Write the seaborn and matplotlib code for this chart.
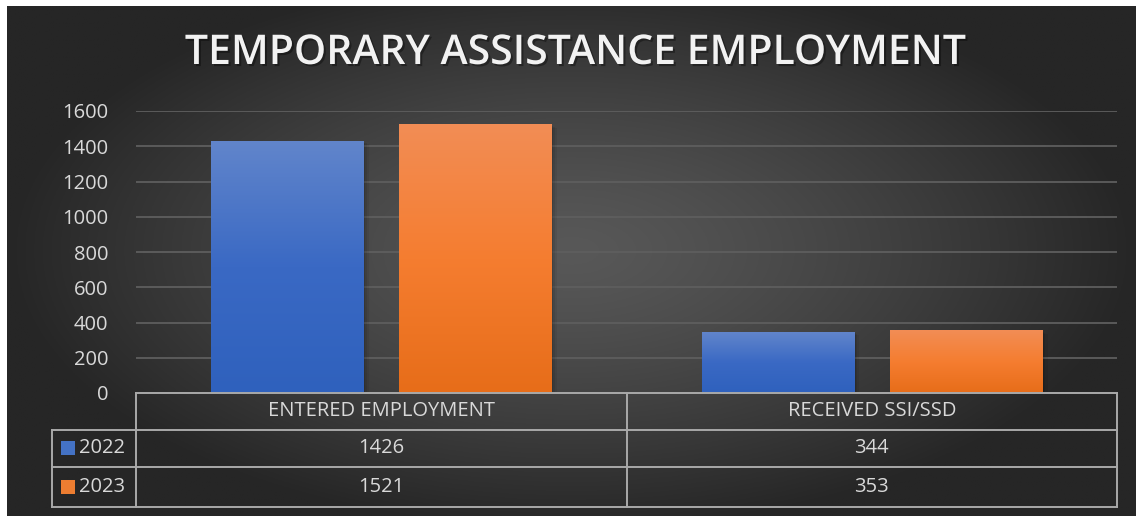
import numpy as np
import pandas as pd
import matplotlib
matplotlib.use("Agg")
import matplotlib.pyplot as plt
import matplotlib.patheffects as pe
from matplotlib.colors import LinearSegmentedColormap, to_hex
import seaborn as sns

categories = ["ENTERED EMPLOYMENT", "RECEIVED SSI/SSD"]
years = ["2022", "2023"]
values_2022 = [1426, 344]
values_2023 = [1521, 353]
yticks = [0, 200, 400, 600, 800, 1000, 1200, 1400, 1600]
title = "TEMPORARY ASSISTANCE EMPLOYMENT"

df = pd.DataFrame({
    "category": categories * 2,
    "year": [years[0]] * 2 + [years[1]] * 2,
    "value": values_2022 + values_2023,
})

sns.set_theme(style="white")
plt.rcParams["font.family"] = ["Open Sans", "DejaVu Sans"]

W, H = 1137, 516
fig = plt.figure(figsize=(W / 100, H / 100), dpi=100)
fig.patch.set_facecolor("white")

# background with radial gradient
bg = fig.add_axes([7 / W, 0, 1 - 8 / W, 1 - 6 / H])
bg.set_axis_off()
yy, xx = np.mgrid[0:1:300j, 0:1:600j]
r = np.sqrt(((xx - 0.5) / 0.5) ** 2 + ((yy - 0.52) / 0.55) ** 2)
r = np.clip(r, 0, 1)
val = (88 - (88 - 38) * r ** 1.3) / 255.0
bg.imshow(np.dstack([val, val, val]), aspect="auto", extent=[0, 1, 0, 1], origin="lower")
bg.set_xlim(0, 1)
bg.set_ylim(0, 1)

ax = fig.add_axes([136 / W, 1 - 393 / H, 981 / W, (393 - 111) / H])
ax.patch.set_alpha(0)

pal = {"2022": "#4472C4", "2023": "#ED7D31"}
sns.barplot(data=df, x="category", y="value", hue="year", palette=pal, saturation=1,
            width=0.767, gap=0.19, legend=False, ax=ax, zorder=3, edgecolor="none", linewidth=0)

ax.set_xlim(-0.5, 1.5)
ax.set_ylim(0, 1600)
ax.set_yticks(yticks)
ax.set_yticklabels([str(t) for t in yticks], color="#d9d9d9", fontsize=14.5)
ax.tick_params(axis="y", length=0, pad=20)
ax.set_xticks([])
ax.set_xlabel("")
ax.set_ylabel("")
for s in ax.spines.values():
    s.set_visible(False)
ax.yaxis.grid(True, color="#5e5e5e", lw=1.3)
ax.set_axisbelow(True)

# gradient fills for bars
grads = {
    "#4472C4": LinearSegmentedColormap.from_list("b", ["#2f61bd", "#3a69c4", "#6185cb"]),
    "#ED7D31": LinearSegmentedColormap.from_list("o", ["#e76d19", "#f57d30", "#f28d55"]),
}
grad = np.linspace(0, 1, 256).reshape(-1, 1)
for p in list(ax.patches):
    fc = to_hex(p.get_facecolor()).upper()
    cmap = grads.get(fc, None)
    if cmap is None:
        continue
    x0, y0 = p.get_x(), p.get_y()
    w, h = p.get_width(), p.get_height()
    p.set_facecolor("black")
    p.set_alpha(0.0)
    ax.imshow(grad, cmap=cmap, aspect="auto", origin="lower",
              extent=[x0, x0 + w, y0, y0 + h], zorder=3)
    for k, a in [(4, 0.06), (2.5, 0.08), (1.2, 0.1)]:
        shadow = plt.Rectangle((x0, y0), w, h, facecolor="black", edgecolor="none", zorder=2.9,
                               path_effects=[pe.SimplePatchShadow(offset=(k, -k / 2), alpha=a,
                                                                  shadow_rgbFace="black")])
        shadow.set_alpha(0.0)
        ax.add_patch(shadow)
ax.set_xlim(-0.5, 1.5)
ax.set_ylim(0, 1600)

# data table
lc = "#a9a9a9"
lw = 1.4
tr = ax.get_xaxis_transform()
row_y = [0, -0.1312, -0.2624, -0.4043]
leftcol = (52 - 136) / 981
kw = dict(color=lc, lw=lw, clip_on=False, zorder=5, solid_capstyle="projecting")
ax.plot([-0.5, 1.5], [row_y[0]] * 2, transform=tr, **kw)
for yv in row_y[1:]:
    ax.plot([leftcol, 1], [yv, yv], transform=ax.transAxes, **kw)
for xv in [-0.5, 0.5, 1.5]:
    ax.plot([xv, xv], [row_y[0], row_y[-1]], transform=tr, **kw)
ax.plot([leftcol, leftcol], [row_y[1], row_y[-1]], transform=ax.transAxes, **kw)

tc = "#d9d9d9"
fs = 14.5
for i, c in enumerate(categories):
    ax.text(i, (row_y[0] + row_y[1]) / 2, c, transform=tr, ha="center", va="center",
            color=tc, fontsize=fs, clip_on=False)
    ax.text(i, (row_y[1] + row_y[2]) / 2, str(values_2022[i]), transform=tr, ha="center",
            va="center", color=tc, fontsize=fs, clip_on=False)
    ax.text(i, (row_y[2] + row_y[3]) / 2, str(values_2023[i]), transform=tr, ha="center",
            va="center", color=tc, fontsize=fs, clip_on=False)

sq_w = 14 / 981
sq_h = 14 / 282
sq_x = (61 - 136) / 981
for j, (yr, col) in enumerate(zip(years, ["#4472C4", "#ED7D31"])):
    yc = (row_y[j + 1] + row_y[j + 2]) / 2
    ax.add_patch(plt.Rectangle((sq_x, yc - sq_h / 2), sq_w, sq_h, transform=ax.transAxes,
                               facecolor=col, edgecolor="none", clip_on=False, zorder=5))
    ax.text((79 - 136) / 981, yc, yr, transform=ax.transAxes, ha="left", va="center",
            color=tc, fontsize=fs, clip_on=False)

# title
fig.text(576 / W, 1 - 53 / H, title, ha="center", va="center", color="#f2f2f2",
         fontsize=29.5, fontweight="semibold",
         path_effects=[pe.withSimplePatchShadow(offset=(1.5, -1.5), alpha=0.35,
                                                shadow_rgbFace="black")])

fig.savefig("out.png", dpi=100)
